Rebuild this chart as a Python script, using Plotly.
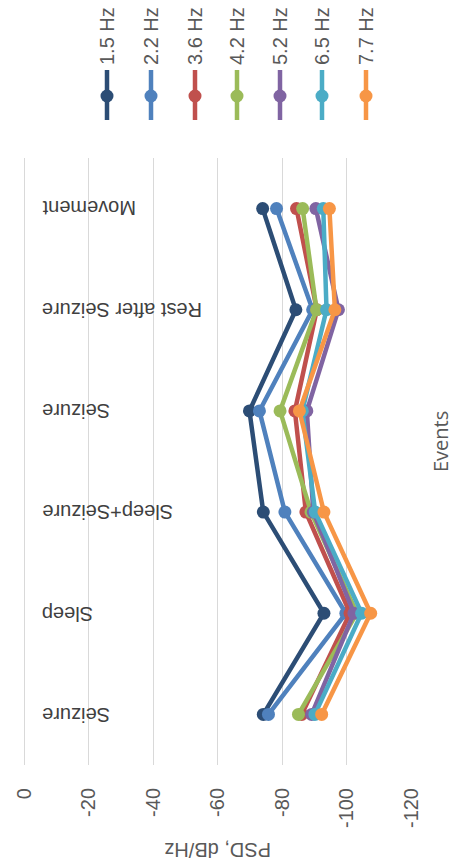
import plotly.graph_objects as go

categories = ["Seizure", "Sleep", "Sleep+Seizure", "Seizure", "Rest after Seizure", "Movement"]
series_names = ["1.5 Hz", "2.2 Hz", "3.6 Hz", "4.2 Hz", "5.2 Hz", "6.5 Hz", "7.7 Hz"]
hz_1_5 = [-74.2, -93.0, -74.2, -69.9, -84.3, -74.0]
hz_2_2 = [-75.8, -99.8, -80.9, -73.0, -89.5, -78.3]
hz_3_6 = [-86.1, -101.1, -87.4, -84.0, -90.8, -84.5]
hz_4_2 = [-85.1, -103.2, -89.0, -79.4, -90.7, -86.4]
hz_5_2 = [-89.2, -102.3, -89.7, -87.7, -97.5, -90.5]
hz_6_5 = [-90.2, -104.7, -90.3, -86.3, -93.8, -92.8]
hz_7_7 = [-92.3, -107.5, -93.0, -85.4, -96.4, -94.7]
series_values = [hz_1_5, hz_2_2, hz_3_6, hz_4_2, hz_5_2, hz_6_5, hz_7_7]
colors = ["#2C4D75", "#4F81BD", "#C0504D", "#9BBB59", "#8064A2", "#4BACC6", "#F79646"]
x_ticks = [0, -20, -40, -60, -80, -100, -120]

W, H = 454, 864
L, R, T, B = 24, 411, 158, 765  # plot area in pixels


def px(x):
    return (x - L) / (R - L)


def py(y):
    return (B - y) / (B - T)


TXT = "#595959"
CAT = "#404040"
FONT = "Liberation Sans"

fig = go.Figure()
ypos = list(range(len(categories)))
for name, vals, c in zip(series_names, series_values, colors):
    fig.add_trace(go.Scatter(
        x=vals, y=ypos, mode="lines+markers", name=name,
        line=dict(color=c, width=4.5),
        marker=dict(color=c, size=13),
        showlegend=False, cliponaxis=False,
    ))

annotations = []
for i, cat in enumerate(categories):
    annotations.append(dict(
        x=px(40), xref="paper", y=i, yref="y", text=cat, showarrow=False,
        textangle=180, xanchor="left", yanchor="middle",
        font=dict(family=FONT, size=20, color=CAT),
    ))

annotations.append(dict(
    x=0.5, xref="paper", y=py(850), yref="paper", text="PSD, dB/Hz",
    showarrow=False, textangle=180, xanchor="center", yanchor="middle",
    font=dict(family=FONT, size=20, color=TXT),
))
annotations.append(dict(
    x=px(440), xref="paper", y=py(442), yref="paper", text="Events",
    showarrow=False, textangle=-90, xanchor="center", yanchor="middle",
    font=dict(family="Open Sans", size=20, color=TXT),
))

shapes = []
leg_x = [107, 151, 195, 237, 280, 322, 366]
r = 6.5
for lx, name, c in zip(leg_x, series_names, colors):
    shapes.append(dict(type="line", xref="paper", yref="paper",
                       x0=px(lx), x1=px(lx), y0=py(70), y1=py(120),
                       line=dict(color=c, width=4.5)))
    shapes.append(dict(type="circle", xref="paper", yref="paper",
                       x0=px(lx - r), x1=px(lx + r), y0=py(96 - r), y1=py(96 + r),
                       fillcolor=c, line=dict(color=c, width=0)))
    annotations.append(dict(
        x=px(lx), xref="paper", y=py(36), yref="paper", text=name,
        showarrow=False, textangle=-90, xanchor="center", yanchor="middle",
        font=dict(family=FONT, size=20, color=TXT),
    ))

fig.update_layout(
    width=W, height=H,
    margin=dict(l=L, r=W - R, t=T, b=H - B, pad=0, autoexpand=False),
    plot_bgcolor="white", paper_bgcolor="white",
    annotations=annotations, shapes=shapes,
    showlegend=False,
)
fig.update_xaxes(
    range=[0, -120], tickvals=x_ticks, ticktext=[str(v) for v in x_ticks],
    tickangle=-90, showgrid=True, gridcolor="#D9D9D9", gridwidth=1,
    zeroline=True, zerolinecolor="#D9D9D9", zerolinewidth=1,
    showline=False, ticks="", ticklabelstandoff=18, automargin=False,
    tickfont=dict(family=FONT, size=20, color=TXT),
)
fig.update_yaxes(
    range=[-0.5, len(categories) - 0.5], showticklabels=False,
    showgrid=False, zeroline=False, showline=False, ticks="", automargin=False,
)

fig.write_html(
    "out.html",
    config={"displayModeBar": False},
    post_script="document.body.style.margin='0';document.body.style.overflow='hidden';",
)
